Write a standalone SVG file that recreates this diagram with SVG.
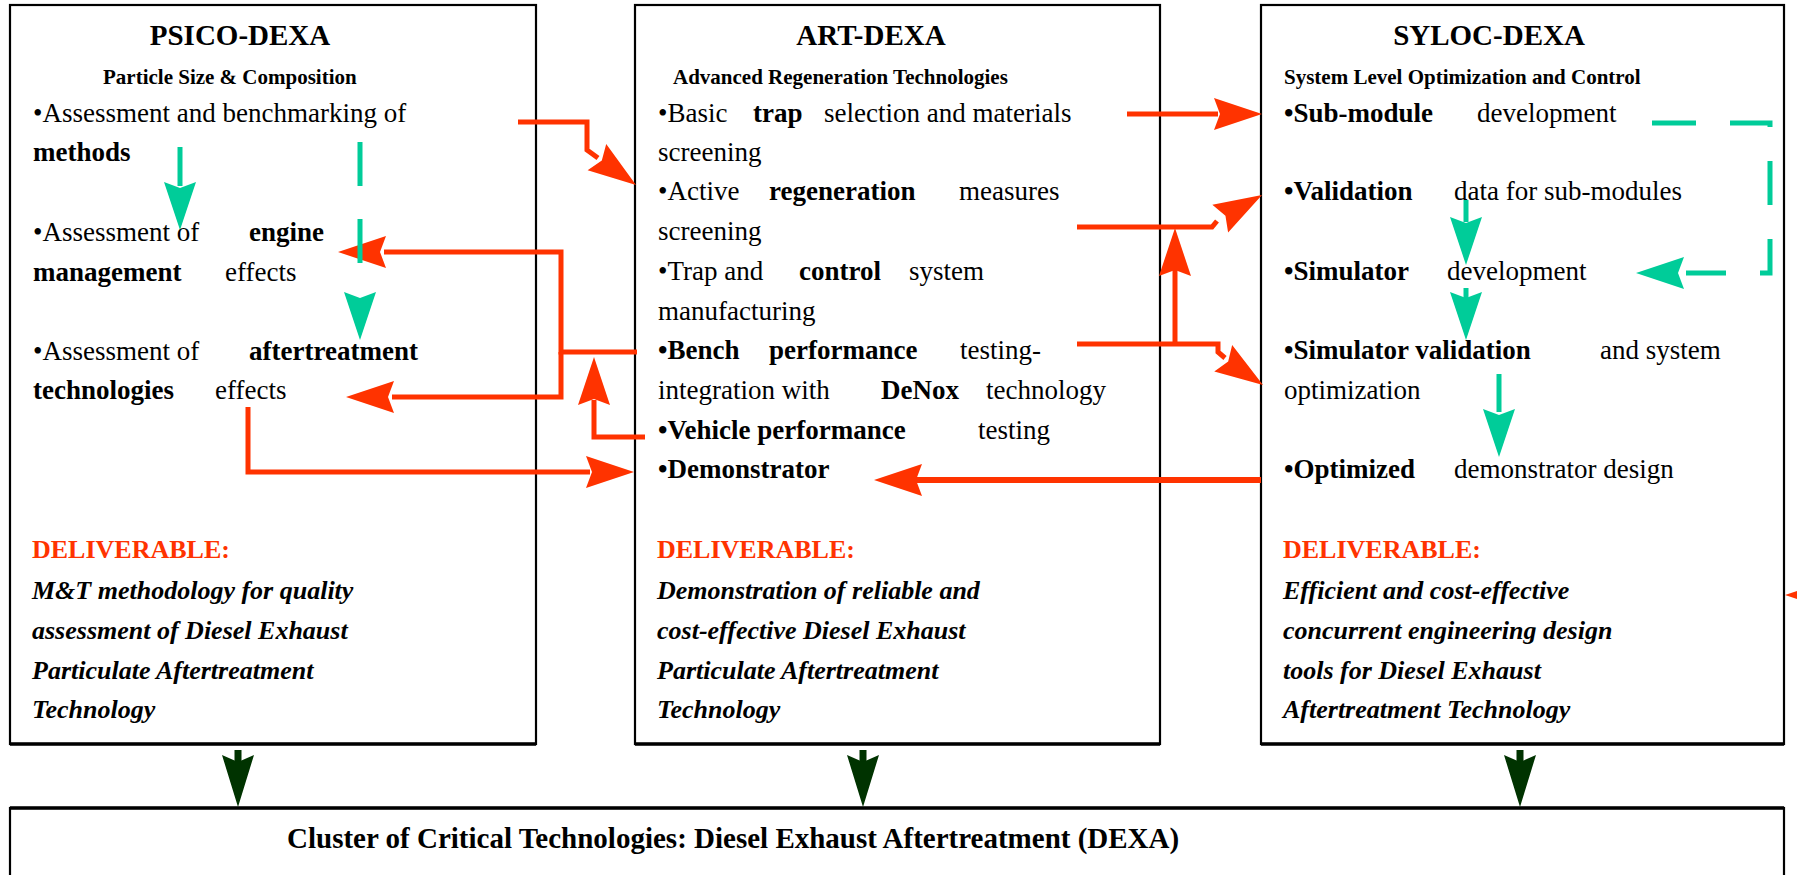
<svg xmlns="http://www.w3.org/2000/svg" width="1797" height="875" viewBox="0 0 1797 875">
<style>
.box{fill:#fff;stroke:#000;stroke-width:2.2}
.edge{stroke:#000;stroke-width:3.5}
text{font-family:"Liberation Serif","Times New Roman",serif;font-size:27px;fill:#000}
.b{font-weight:bold}
.title{font-size:29px;font-weight:bold}
.sub{font-size:21px;font-weight:bold}
.del{fill:#FF3300;font-weight:bold;font-size:26px}
.it{font-style:italic;font-weight:bold;font-size:26px}
.rl{fill:none;stroke:#FF3300;stroke-width:5}
.gl{fill:none;stroke:#00CC99;stroke-width:5}
.gd{fill:none;stroke:#00CC99;stroke-width:5;stroke-dasharray:44 34}
.rf{fill:#FF3300}
.gf{fill:#00CC99}
.df{fill:#003300}
</style>
<defs>
<polygon id="ah" points="0,0 -48,-16 -42,0 -48,16"/>
<polygon id="dh" points="0,0 -52,-16 -45,0 -52,16"/>
</defs>
<rect width="1797" height="875" fill="#fff"/>

<g id="psico">
<rect class="box" x="10" y="5" width="526" height="739"/>
<line class="edge" x1="10" y1="744" x2="536" y2="744"/>
<text class="title" x="240" y="45" text-anchor="middle">PSICO-DEXA</text>
<text class="sub" x="103" y="84">Particle Size &amp; Composition</text>
<text x="33" y="122">•Assessment and benchmarking of</text>
<text class="b" x="33" y="161">methods</text>
<text y="241"><tspan x="33">•Assessment of</tspan><tspan class="b" x="249">engine</tspan></text>
<text y="281"><tspan class="b" x="33">management</tspan><tspan x="225">effects</tspan></text>
<text y="360"><tspan x="33">•Assessment of</tspan><tspan class="b" x="249">aftertreatment</tspan></text>
<text y="399"><tspan class="b" x="33">technologies</tspan><tspan x="215">effects</tspan></text>
<text class="del" x="32" y="558">DELIVERABLE:</text>
<text class="it" x="32" y="599">M&amp;T methodology for quality</text>
<text class="it" x="32" y="639">assessment of Diesel Exhaust</text>
<text class="it" x="32" y="679">Particulate Aftertreatment</text>
<text class="it" x="32" y="718">Technology</text>
</g>

<g id="art">
<rect class="box" x="635" y="5" width="525" height="739"/>
<line class="edge" x1="635" y1="744" x2="1160" y2="744"/>
<text class="title" x="871" y="45" text-anchor="middle">ART-DEXA</text>
<text class="sub" x="673" y="84">Advanced Regeneration Technologies</text>
<text y="122"><tspan x="658">•Basic</tspan><tspan class="b" x="753">trap</tspan><tspan x="824">selection and materials</tspan></text>
<text x="658" y="161">screening</text>
<text y="200"><tspan x="658">•Active</tspan><tspan class="b" x="769">regeneration</tspan><tspan x="959">measures</tspan></text>
<text x="658" y="240">screening</text>
<text y="280"><tspan x="658">•Trap and</tspan><tspan class="b" x="799">control</tspan><tspan x="909">system</tspan></text>
<text x="658" y="320">manufacturing</text>
<text y="359"><tspan class="b" x="658">•Bench</tspan><tspan class="b" x="769">performance</tspan><tspan x="960">testing-</tspan></text>
<text y="399"><tspan x="658">integration with</tspan><tspan class="b" x="881">DeNox</tspan><tspan x="986">technology</tspan></text>
<text y="439"><tspan class="b" x="658">•Vehicle performance</tspan><tspan x="978">testing</tspan></text>
<text class="b" x="658" y="478">•Demonstrator</text>
<text class="del" x="657" y="558">DELIVERABLE:</text>
<text class="it" x="657" y="599">Demonstration of reliable and</text>
<text class="it" x="657" y="639">cost-effective Diesel Exhaust</text>
<text class="it" x="657" y="679">Particulate Aftertreatment</text>
<text class="it" x="657" y="718">Technology</text>
</g>

<g id="syloc">
<rect class="box" x="1261" y="5" width="523" height="739"/>
<line class="edge" x1="1261" y1="744" x2="1784" y2="744"/>
<text class="title" x="1489" y="45" text-anchor="middle">SYLOC-DEXA</text>
<text class="sub" x="1284" y="84">System Level Optimization and Control</text>
<text y="122"><tspan class="b" x="1284">•Sub-module</tspan><tspan x="1477">development</tspan></text>
<text y="200"><tspan class="b" x="1284">•Validation</tspan><tspan x="1454">data for sub-modules</tspan></text>
<text y="280"><tspan class="b" x="1284">•Simulator</tspan><tspan x="1447">development</tspan></text>
<text y="359"><tspan class="b" x="1284">•Simulator validation</tspan><tspan x="1600">and system</tspan></text>
<text x="1284" y="399">optimization</text>
<text y="478"><tspan class="b" x="1284">•Optimized</tspan><tspan x="1454">demonstrator design</tspan></text>
<text class="del" x="1283" y="558">DELIVERABLE:</text>
<text class="it" x="1283" y="599">Efficient and cost-effective</text>
<text class="it" x="1283" y="639">concurrent engineering design</text>
<text class="it" x="1283" y="679">tools for Diesel Exhaust</text>
<text class="it" x="1283" y="718">Aftertreatment Technology</text>
</g>

<g id="cluster">
<rect class="box" x="10" y="808" width="1774" height="80"/>
<line class="edge" x1="10" y1="808" x2="1784" y2="808"/>
<text class="title" x="287" y="848">Cluster of Critical Technologies: Diesel Exhaust Aftertreatment (DEXA)</text>
</g>

<g id="connectors">
<!-- red -->
<path class="rl" d="M518,122 H587 V150 L598,158"/>
<use href="#ah" class="rf" transform="translate(636,185) rotate(35.5)"/>
<path class="rl" d="M637,352 H561 V252 H384"/>
<use href="#ah" class="rf" transform="translate(338,252) rotate(180)"/>
<path class="rl" d="M561,352 V397 H392"/>
<use href="#ah" class="rf" transform="translate(346,397) rotate(180)"/>
<path class="rl" d="M645,437 H594 V400"/>
<use href="#ah" class="rf" transform="translate(594,357) rotate(-90)"/>
<path class="rl" d="M248,407 V472 H590"/>
<use href="#ah" class="rf" transform="translate(634,472) rotate(0)"/>
<path class="rl" d="M1127,114 H1218"/>
<use href="#ah" class="rf" transform="translate(1262,114) rotate(0)"/>
<path class="rl" d="M1077,227 H1212 L1217,221"/>
<use href="#ah" class="rf" transform="translate(1262,195) rotate(-29.5)"/>
<path class="rl" d="M1077,344 H1218 V352 L1225,358"/>
<use href="#ah" class="rf" transform="translate(1263,385) rotate(34)"/>
<path class="rl" d="M1175,345 V270"/>
<use href="#ah" class="rf" transform="translate(1175,228) rotate(-90)"/>
<path class="rl" d="M1261,480 H916" style="stroke-width:6"/>
<use href="#ah" class="rf" transform="translate(874,480) rotate(180)"/>
<use href="#ah" class="rf" transform="translate(1785,595) rotate(180)"/>
<!-- green -->
<path class="gl" d="M180,147 V186"/>
<use href="#ah" class="gf" transform="translate(180,230) rotate(90)"/>
<path class="gl" d="M360,142 V186 M360,219 V263"/>
<use href="#ah" class="gf" transform="translate(360,340) rotate(90)"/>
<path class="gl" d="M1466,200 V222"/>
<use href="#ah" class="gf" transform="translate(1466,265) rotate(90)"/>
<path class="gl" d="M1466,288 V298"/>
<use href="#ah" class="gf" transform="translate(1466,340) rotate(90)"/>
<path class="gl" d="M1499,374 V412"/>
<use href="#ah" class="gf" transform="translate(1499,457) rotate(90)"/>
<path class="gd" d="M1652,123 H1770 V273 H1686"/>
<use href="#ah" class="gf" transform="translate(1636,273) rotate(180)"/>
<!-- dark green -->
<path d="M238,750 V762 M863,750 V762 M1520,750 V762" style="stroke:#003300;stroke-width:7;fill:none"/>
<use href="#dh" class="df" transform="translate(238,807) rotate(90)"/>
<use href="#dh" class="df" transform="translate(863,807) rotate(90)"/>
<use href="#dh" class="df" transform="translate(1520,807) rotate(90)"/>
</g>
</svg>
